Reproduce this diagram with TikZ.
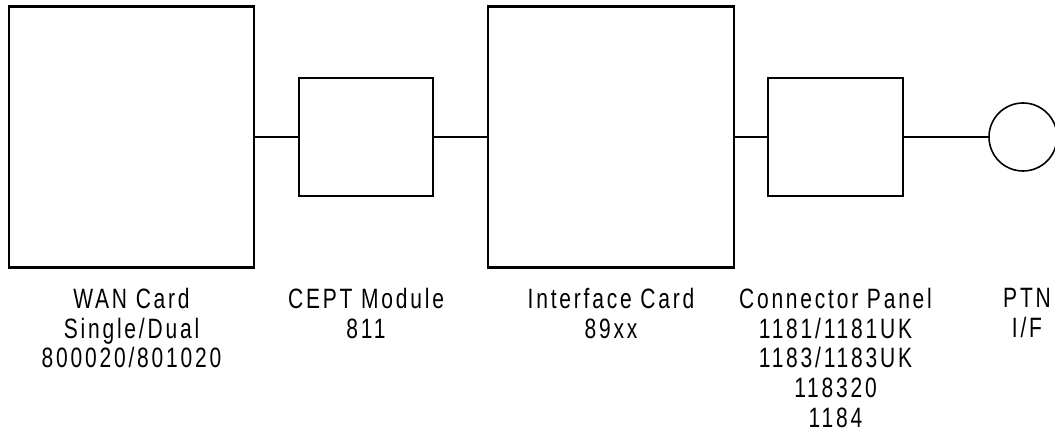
\documentclass[tikz,border=0pt]{standalone}
\usepackage{fontspec}
\setmainfont{Liberation Sans}[FakeStretch=0.75, LetterSpace=10]
\begin{document}
\begin{tikzpicture}[x=0.5pt, y=-0.5pt,
		unit/.style={draw, line width=1.2pt, inner sep=0pt},
		caption/.style={align=center, anchor=north, inner sep=0pt, font=\fontsize{14}{14.8}\selectfont}]
			\useasboundingbox (0,0) rectangle (1055,431);
			\node [unit, minimum width=245*0.5pt, minimum height=261*0.5pt] (wan) at (131.5,137) {};
			\node [unit, minimum width=134*0.5pt, minimum height=118*0.5pt] (cept) at (366,137) {};
			\node [unit, minimum width=246*0.5pt, minimum height=261*0.5pt] (iface) at (611,137) {};
			\node [unit, minimum width=135*0.5pt, minimum height=118*0.5pt] (panel) at (835.5,137) {};
			\node [draw, circle, line width=0.8pt, minimum size=68*0.5pt, inner sep=0pt] (ptn) at (1023,137) {};
			\draw [line width=1.2pt] (wan.east) -- (cept.west) (cept.east) -- (iface.west) (iface.east) -- (panel.west) (panel.east) -- (ptn.west);
			\node [caption] (wantxt) at (131.5,288) {WAN Card\\Single/Dual\\800020/801020};
			\node [caption] (cepttxt) at (366,288) {CEPT Module\\811};
			\node [caption] (ifacetxt) at (611,288) {Interface Card\\89xx};
			\node [caption] (paneltxt) at (835.5,288) {Connector Panel\\1181/1181UK\\1183/1183UK\\118320\\1184};
			\node [caption] (ptntxt) at (1027,288) {PTN\\I/F};
		\end{tikzpicture}
\end{document}
